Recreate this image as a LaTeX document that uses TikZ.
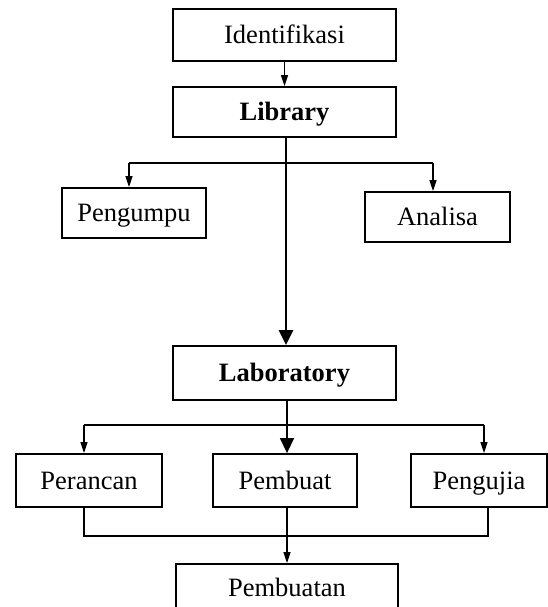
\documentclass[tikz,border=0pt]{standalone}
\usepackage{fontspec}
\setmainfont{Liberation Serif}
\usetikzlibrary{arrows.meta}
\begin{document}
\begin{tikzpicture}[x=1pt,y=-1pt,
  box/.style={draw, line width=1.8pt, inner sep=0pt, text height=23pt, text depth=5.5pt, font=\fontsize{26.5}{30}\selectfont},
  thin/.style={line width=1.4pt},
  thick2/.style={line width=2.8pt},
  sarrow/.style={-{Triangle[length=11pt,width=7pt]}},
  barrow/.style={-{Triangle[length=15pt,width=14pt]}}]
\useasboundingbox (0,0) rectangle (548,607);
\clip (0,0) rectangle (548,607);
\node[box, minimum width=223pt, minimum height=52pt] (ident) at (284.5,35) {Identifikasi};
\node[box, minimum width=223pt, minimum height=50pt] (lib) at (284.5,112) {\textbf{Library}};
\node[box, minimum width=144pt, minimum height=50pt] (peng) at (134,213) {Pengumpu};
\node[box, minimum width=145pt, minimum height=50pt] (anal) at (437.5,217) {Analisa};
\node[box, minimum width=223pt, minimum height=54pt] (lab) at (284.5,373) {\textbf{Laboratory}};
\node[box, minimum width=146pt, minimum height=53pt] (peran) at (89,480.5) {Perancan};
\node[box, minimum width=144pt, minimum height=53pt] (pbt) at (285,480.5) {Pembuat};
\node[box, minimum width=136pt, minimum height=53pt] (puj) at (479,480.5) {Pengujia};
\node[box, minimum width=222pt, minimum height=48pt] (pbtn) at (287,588) {Pembuatan};
% top
\draw[thin, sarrow] (ident.south) -- (lib.north);
\coordinate (b1) at (286,163);
\coordinate (b1l) at (129,163);
\coordinate (b1r) at (433,163);
\draw[thick2, barrow] (lib.south -| b1) -- (lab.north -| b1);
\draw[thick2] (b1l) -- (b1r);
\draw[thin, sarrow] (b1l) -- (b1l |- peng.north);
\draw[thin, sarrow] (b1r) -- (b1r |- anal.north);
% lower
\coordinate (b2) at (287,425);
\coordinate (b2l) at (84,425);
\coordinate (b2r) at (484,425);
\draw[thick2] (lab.south -| b2) -- (b2);
\draw[thick2] (b2l) -- (b2r);
\draw[thin, sarrow] (b2l) -- (b2l |- peran.north);
\draw[thin, barrow] (b2) -- (b2 |- pbt.north);
\draw[thin, sarrow] (b2r) -- (b2r |- puj.north);
% bottom
\coordinate (c1) at (84,536);
\coordinate (c2) at (488,536);
\coordinate (c3) at (287,536);
\draw[thick2] (peran.south -| c1) -- (c1) -- (c2) -- (puj.south -| c2);
\draw[thin] (pbt.south -| c3) -- (c3);
\draw[thin, sarrow] (c3) -- (c3 |- pbtn.north);
\end{tikzpicture}
\end{document}
